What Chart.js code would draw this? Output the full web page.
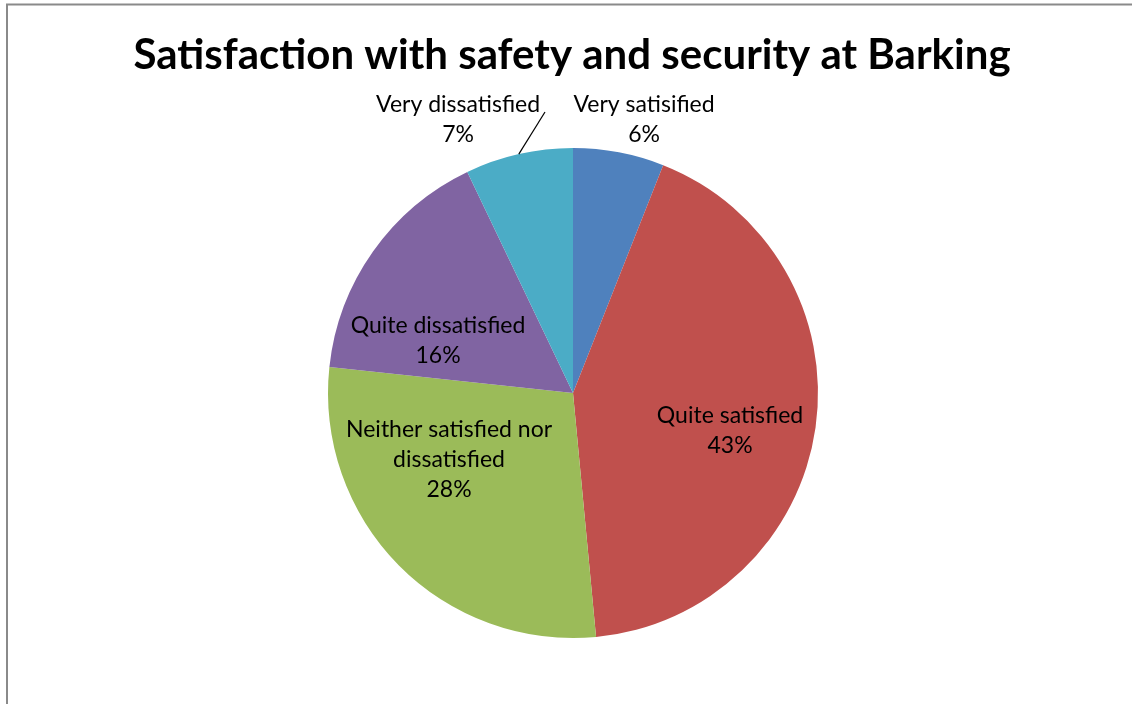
<!DOCTYPE html>
<html>
<head>
<meta charset="utf-8">
<title>Satisfaction with safety and security at Barking</title>
<script src="https://cdn.jsdelivr.net/npm/chart.js@4"></script>
<style>
    html, body { margin: 0; padding: 0; background: #fff; }
    #wrap { width: 1132px; height: 704px; }
</style>
</head>
<body>
<div id="wrap"><canvas id="pieChart" width="1132" height="704"></canvas></div>
<script>
// Chart data
const categories = ['Very satisified', 'Quite satisfied', 'Neither satisfied nor dissatisfied', 'Quite dissatisfied', 'Very dissatisfied'];
const shares = [6.0, 42.5, 28.2, 16.2, 7.1];
const labelLines = [
    ['Very satisified'],
    ['Quite satisfied'],
    ['Neither satisfied nor', 'dissatisfied'],
    ['Quite dissatisfied'],
    ['Very dissatisfied']
];
const sliceColors = ['#4F81BD', '#C0504D', '#9BBB59', '#8064A2', '#4BACC6'];

// label block centres, relative to pie centre, in units of radius
const labelOffsets = [[0.290, -1.118], [0.641, 0.155], [-0.506, 0.273], [-0.551, -0.212], [-0.469, -1.118]];

const FONT = 'Lato, "Liberation Sans", sans-serif';

// Frame + title + data labels, drawn by hand like Excel does
const excelDecor = {
    id: 'excelDecor',
    beforeDraw(chart) {
        const c = chart.ctx;
        c.save();
        c.strokeStyle = '#8a8a8a';
        c.lineWidth = 2;
        c.lineCap = 'butt';
        c.beginPath();
        c.moveTo(7, 704);
        c.lineTo(7, 4.5);
        c.lineTo(1140, 4.5);
        c.stroke();
        c.restore();
    },
    afterDatasetsDraw(chart) {
        const c = chart.ctx;
        const arcs = chart.getDatasetMeta(0).data;
        c.save();
        // title
        c.fillStyle = '#000';
        c.font = 'bold 42px ' + FONT;
        c.textAlign = 'center';
        c.textBaseline = 'alphabetic';
        c.fillText('Satisfaction with safety and security at Barking', 572, 69);

        // labels
        c.font = '23px ' + FONT;
        c.textBaseline = 'middle';
        arcs.forEach((arc, i) => {
            const r = arc.outerRadius;
            const cx = arc.x + labelOffsets[i][0] * r;
            const cy = arc.y + labelOffsets[i][1] * r;
            const lines = labelLines[i].concat([Math.round(shares[i]) + '%']);
            const lh = 30;
            const top = cy - (lines.length - 1) * lh / 2;
            lines.forEach((t, k) => c.fillText(t, cx, top + k * lh));
        });

        // leader line for the small "Very dissatisfied" slice
        const a = arcs[4];
        const mid = (a.startAngle + a.endAngle) / 2;
        const ex = a.x + Math.cos(mid) * a.outerRadius;
        const ey = a.y + Math.sin(mid) * a.outerRadius;
        c.strokeStyle = '#000';
        c.lineWidth = 1.2;
        c.beginPath();
        c.moveTo(ex, ey);
        c.lineTo(545, 112);
        c.stroke();
        c.restore();
    }
};

new Chart(document.getElementById('pieChart'), {
    type: 'pie',
    data: {
        labels: categories,
        datasets: [{
            data: shares,
            backgroundColor: sliceColors,
            borderWidth: 0
        }]
    },
    options: {
        responsive: false,
        animation: false,
        layout: { padding: { top: 148, bottom: 66, left: 328, right: 314 } },
        plugins: {
            legend: { display: false },
            title: { display: false },
            tooltip: { enabled: false }
        }
    },
    plugins: [excelDecor]
});
</script>
</body>
</html>
